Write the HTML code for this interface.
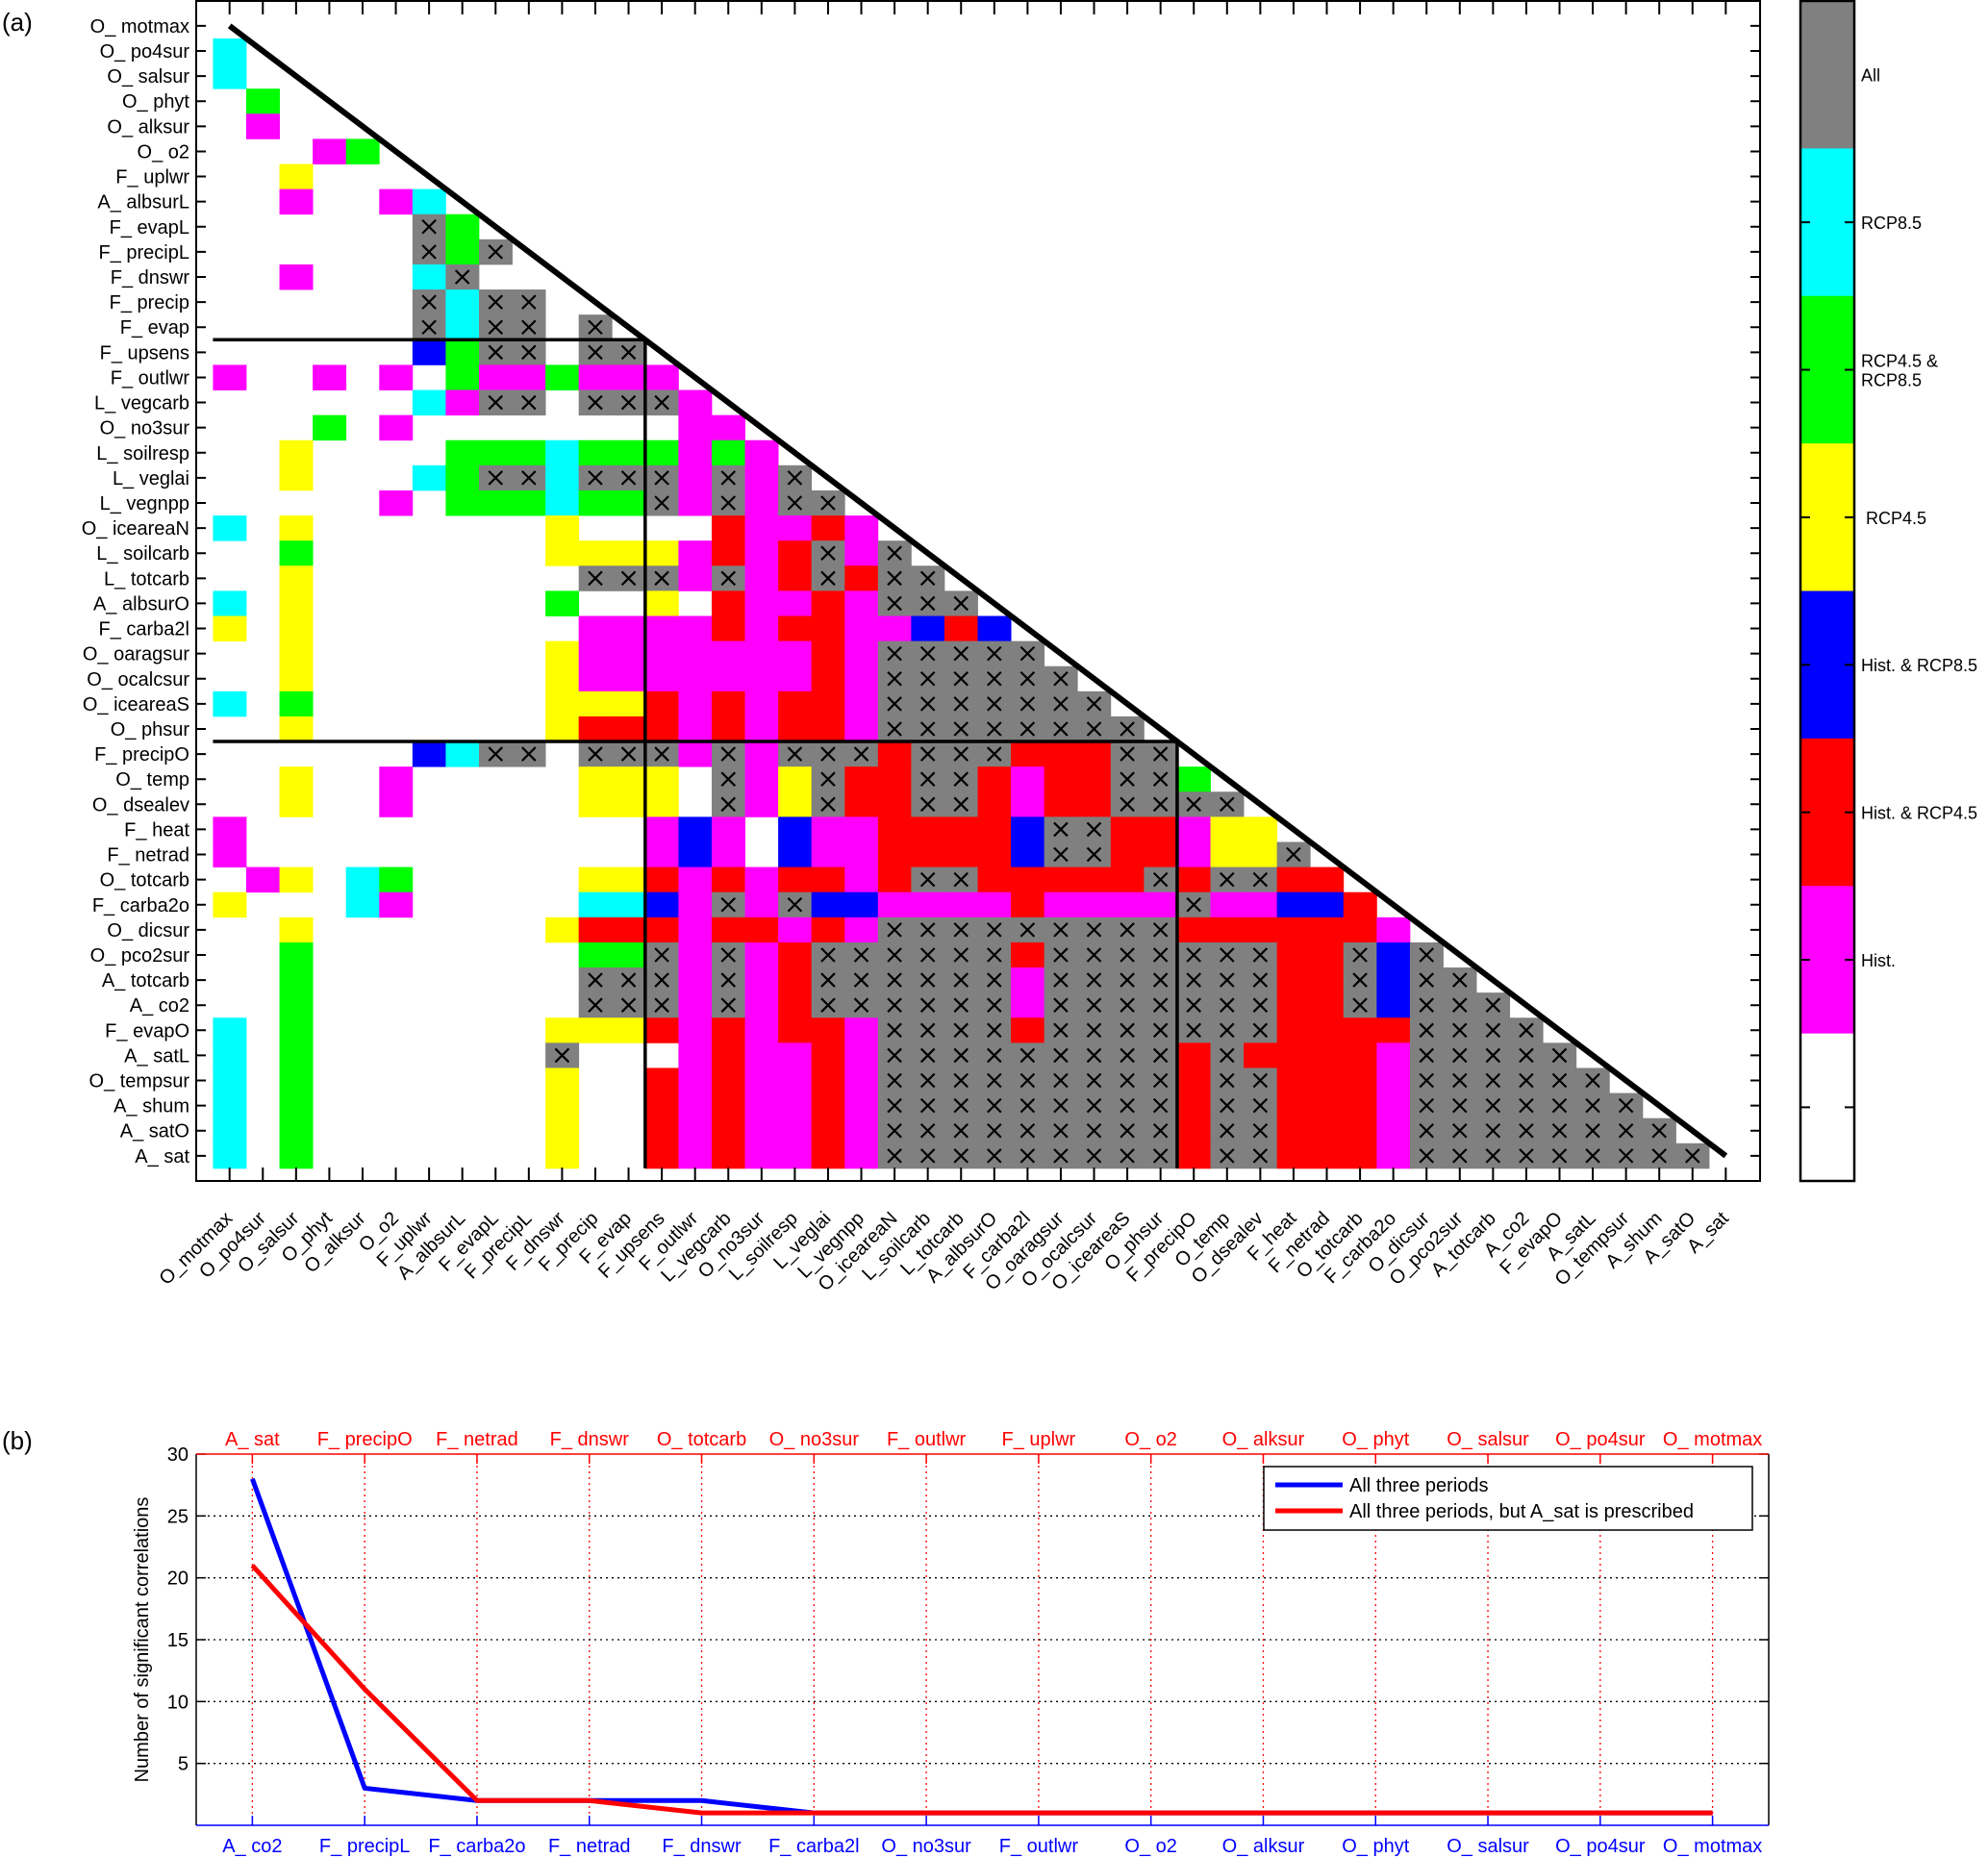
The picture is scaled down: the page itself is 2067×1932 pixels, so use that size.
<!DOCTYPE html>
<html><head><meta charset="utf-8"><style>
html,body{margin:0;padding:0;background:#fff;}
svg{display:block;font-family:"Liberation Sans",Arial,sans-serif;}
</style></head><body>
<svg id="fig" width="2067" height="1932" viewBox="0 0 2067 1932" xmlns="http://www.w3.org/2000/svg">
<rect x="0" y="0" width="2067" height="1932" fill="#fff"/>
<text x="2" y="32" font-size="26">(a)</text>
<text x="2" y="1507" font-size="26">(b)</text>
<g id="matrix"></g>
<g id="cbar"></g>
<g id="lineplot"></g>
</svg>
<script>
const NS="http://www.w3.org/2000/svg";
const varNames=["O_motmax","O_po4sur","O_salsur","O_phyt","O_alksur","O_o2","F_uplwr","A_albsurL","F_evapL","F_precipL","F_dnswr","F_precip","F_evap","F_upsens","F_outlwr","L_vegcarb","O_no3sur","L_soilresp","L_veglai","L_vegnpp","O_iceareaN","L_soilcarb","L_totcarb","A_albsurO","F_carba2l","O_oaragsur","O_ocalcsur","O_iceareaS","O_phsur","F_precipO","O_temp","O_dsealev","F_heat","F_netrad","O_totcarb","F_carba2o","O_dicsur","O_pco2sur","A_totcarb","A_co2","F_evapO","A_satL","O_tempsur","A_shum","A_satO","A_sat"];
// cell codes per row: . white, c RCP8.5, n RCP4.5&8.5, y RCP4.5, b Hist&8.5, r Hist&4.5, m Hist, x All
const cellRows=["","c","c.",".n.",".m..","...mn","..y...","..m..mc","......xn","......xnx","..m...cx..","......xcxx.","......xcxx.x","......bnxx.xx","m..m.m.nmmnmmm","......cmxx.xxxm","...n.m........mm","..y....nnncnnnmnm","..y...cnxxcxxxmxmx",".....m.nnncnnxmxmxx","c.y.......y....rmmrm","..n.......yyyymrmrxmx","..y........xxxmxmrxrxx","c.y.......n..y.rmmrmxxx","y.y........mmmmrmrrmmbrb","..y.......ymmmmmmmrmxxxxx","..y.......ymmmmmmmrmxxxxxx","c.n.......yyyrmrmrrmxxxxxxx","..y.......yrrrmrmrrmxxxxxxxx","......bcxx.xxxmxmxxxrxxxrrrxx","..y..m.....yyy.xmyxrrxxrmrrxxn","..y..m.....yyy.xmyxrrxxrmrrxxxx","m............mbm.bmmrrrrbxxrrmyy","m............mbm.bmmrrrrbxxrrmyyx",".my.cn.....yyrmrmrrmrxxrrrrrxrxxrr","y...cm.....ccbmxmxbbmmmmrmmmmxmmbbr","..y.......yrrrmrrmrmxxxxxxxxxrrrrrrm","..n........nnxmxmrxxxxxxrxxxxxxxrrxbx","..n........xxxmxmrxxxxxxmxxxxxxxrrxbxx","..n........xxxmxmrxxxxxxmxxxxxxxrrxbxxx","c.n.......yyyrmrmrrmxxxxrxxxxxxxrrrrxxxx","c.n.......x...mrmmrmxxxxxxxxxrxrrrrmxxxxx","c.n.......y..rmrmmrmxxxxxxxxxrxxrrrmxxxxxx","c.n.......y..rmrmmrmxxxxxxxxxrxxrrrmxxxxxxx","c.n.......y..rmrmmrmxxxxxxxxxrxxrrrmxxxxxxxx","c.n.......y..rmrmmrmxxxxxxxxxrxxrrrmxxxxxxxxx"];
const legendLabels=["All","RCP8.5","RCP4.5 &|RCP8.5","RCP4.5","Hist. & RCP8.5","Hist. & RCP4.5","Hist.",""];
// panel b data
const bottomLabels=["A_ co2","F_ precipL","F_ carba2o","F_ netrad","F_ dnswr","F_ carba2l","O_ no3sur","F_ outlwr","O_ o2","O_ alksur","O_ phyt","O_ salsur","O_ po4sur","O_ motmax"];
const topLabels=["A_ sat","F_ precipO","F_ netrad","F_ dnswr","O_ totcarb","O_ no3sur","F_ outlwr","F_ uplwr","O_ o2","O_ alksur","O_ phyt","O_ salsur","O_ po4sur","O_ motmax"];
const blueSeries=[28,3,2,2,2,1,1,1,1,1,1,1,1,1];
const redSeries=[21,11,2,2,1,1,1,1,1,1,1,1,1,1];
const yTicks=[5,10,15,20,25,30];

const COLORS={c:"#00ffff",n:"#00ff00",y:"#ffff00",b:"#0000ff",r:"#ff0000",m:"#ff00ff",x:"#808080"};
function mk(tag,attrs,parent){const e=document.createElementNS(NS,tag);for(const k in attrs)e.setAttribute(k,attrs[k]);parent.appendChild(e);return e;}

// ---------- panel a ----------
const M=document.getElementById('matrix');
const X0=238.7,DX=34.57,Y0=26.9,DY=26.11;
const colX=i=>X0+DX*i, rowY=j=>Y0+DY*j;
const BL=204,BR=1830,BT=1,BB=1228;
mk('rect',{x:BL,y:BT,width:BR-BL,height:BB-BT,fill:"#fff",stroke:"none"},M);
cellRows.forEach((s,r)=>{
  for(let c=0;c<s.length;c++){
    const ch=s[c]; if(ch==='.')continue;
    const cell=mk('rect',{x:colX(c)-DX/2,y:rowY(r)-DY/2,width:DX+0.4,height:DY+0.4,fill:COLORS[ch]},M);
    
    
    if(ch==='x'){
      const cx=colX(c),cy=rowY(r),h=7;
      const p=mk('path',{d:`M${cx-h} ${cy-h}L${cx+h} ${cy+h}M${cx+h} ${cy-h}L${cx-h} ${cy+h}`,stroke:"#000","stroke-width":2.2,fill:"none"},M);
      
      
    }
  }
});
// separators
const sepH1=rowY(12.5), sepH2=rowY(28.5), sepV1=colX(12.5), sepV2=colX(28.5), cellBottom=rowY(45.5);
const sep=(d,n)=>{const p=mk('path',{d:d,stroke:"#000","stroke-width":3.5,fill:"none"},M);};
sep(`M${colX(-0.5)} ${sepH1}H${sepV1}V${cellBottom}`,'separator-atmosphere-flux');
sep(`M${colX(-0.5)} ${sepH2}H${sepV2}V${cellBottom}`,'separator-land-ocean');
const diag=mk('line',{x1:colX(0),y1:rowY(0),x2:colX(45),y2:rowY(45),stroke:"#000","stroke-width":6},M);


// box and ticks
mk('rect',{x:BL,y:BT,width:BR-BL,height:BB-BT,fill:"none",stroke:"#000","stroke-width":2},M);
let tk="";
for(let i=0;i<46;i++){
  const x=colX(i),y=rowY(i);
  tk+=`M${x} ${BT}v14M${x} ${BB}v-14M${BL} ${y}h10M${BR} ${y}h-10`;
}
mk('path',{d:tk,stroke:"#000","stroke-width":2,fill:"none"},M);
varNames.forEach((n,i)=>{
  const t=mk('text',{x:197,y:rowY(i)+7,"text-anchor":"end","font-size":20},M);
  t.textContent=n.replace('_','_ ');
  
  
  const x=colX(i)+4,y=1268;
  const t2=mk('text',{x:x,y:y,"text-anchor":"end","font-size":20,transform:`rotate(-45 ${x} ${y})`},M);
  t2.textContent=n;
  
  
});

// ---------- colorbar ----------
const CB=document.getElementById('cbar');
const cbCols=["#808080","#00ffff","#00ff00","#ffff00","#0000ff","#ff0000","#ff00ff","#ffffff"];
const cbX=1872,cbW=56,cbT=1,cbB=1228,segH=(cbB-cbT)/8;
cbCols.forEach((col,i)=>{
  const r=mk('rect',{x:cbX,y:cbT+segH*i,width:cbW,height:segH+0.5,fill:col},CB);
  
  
  const ty=cbT+segH*(i+0.5);
  if(i>0) mk('path',{d:`M${cbX} ${ty}h10M${cbX+cbW} ${ty}h-10`,stroke:"#000","stroke-width":2},CB);
  const lab=legendLabels[i]; if(!lab)return;
  const parts=lab.split('|');
  parts.forEach((p,k)=>{
    const t=mk('text',{x:cbX+cbW+7+(i===3?5:0),y:ty+7+(k-(parts.length-1)/2)*20,"font-size":18},CB);
    t.textContent=p;
    
    
  });
});
mk('rect',{x:cbX,y:cbT,width:cbW,height:cbB-cbT,fill:"none",stroke:"#000","stroke-width":2.5},CB);

// ---------- panel b ----------
const L=document.getElementById('lineplot');
const pL=204,pR=1839,pT=1512,pB=1898;
const xs=i=>pL+(pR-pL)*((i+1)-0.5)/14;
const ys=v=>pB-(pB-pT)*v/30;
mk('rect',{x:pL,y:pT,width:pR-pL,height:pB-pT,fill:"#fff"},L);
blueSeries.forEach((v,i)=>{
  const g=mk('line',{x1:xs(i),y1:pT,x2:xs(i),y2:pB,stroke:"#ff0000","stroke-width":1.3,"stroke-dasharray":"2 4"},L);
  
  
});
yTicks.forEach(v=>{
  if(v<30){const g=mk('line',{x1:pL,y1:ys(v),x2:pR,y2:ys(v),stroke:"#000","stroke-width":1.3,"stroke-dasharray":"2 4"},L);
  
  }
  mk('line',{x1:pL,y1:ys(v),x2:pL+10,y2:ys(v),stroke:"#000","stroke-width":1.5},L);
  mk('line',{x1:pR,y1:ys(v),x2:pR-10,y2:ys(v),stroke:"#000","stroke-width":1.5},L);
  const t=mk('text',{x:pL-8,y:ys(v)+7,"text-anchor":"end","font-size":20},L);
  t.textContent=v;
  
  
});
// axes
mk('line',{x1:pL,y1:pT,x2:pL,y2:pB,stroke:"#000","stroke-width":1.5},L);
mk('line',{x1:pR,y1:pT,x2:pR,y2:pB,stroke:"#000","stroke-width":1.5},L);
const ax1=mk('line',{x1:pL,y1:pB,x2:pR,y2:pB,stroke:"#0000ff","stroke-width":1.5},L);


const ax2=mk('line',{x1:pL,y1:pT,x2:pR,y2:pT,stroke:"#ff0000","stroke-width":1.5},L);


bottomLabels.forEach((s,i)=>{
  mk('line',{x1:xs(i),y1:pB,x2:xs(i),y2:pB-10,stroke:"#0000ff","stroke-width":1.5},L);
  const t=mk('text',{x:xs(i),y:1926,"text-anchor":"middle","font-size":20,fill:"#0000ff"},L);
  t.textContent=s;
  
  
});
topLabels.forEach((s,i)=>{
  mk('line',{x1:xs(i),y1:pT,x2:xs(i),y2:pT+10,stroke:"#ff0000","stroke-width":1.5},L);
  const t=mk('text',{x:xs(i),y:1503,"text-anchor":"middle","font-size":20,fill:"#ff0000"},L);
  t.textContent=s;
  
  
});
const yt=mk('text',{x:154,y:1705,"text-anchor":"middle","font-size":20,transform:"rotate(-90 154 1705)"},L);
yt.textContent="Number of significant correlations";


function series(vals,col,name){
  const p=mk('polyline',{points:vals.map((v,i)=>xs(i)+","+ys(v)).join(" "),fill:"none",stroke:col,"stroke-width":5,"stroke-linejoin":"round"},L);
  
  
}
series(blueSeries,"#0000ff","series-all-periods");
series(redSeries,"#ff0000","series-sat-prescribed");
// legend
const lg=mk('g',{},L);


mk('rect',{x:1314,y:1525,width:508,height:66,fill:"#fff",stroke:"#000","stroke-width":1.5},lg);
[["All three periods","#0000ff",1544],["All three periods, but A_sat is prescribed","#ff0000",1571]].forEach(([s,c,y])=>{
  const l=mk('line',{x1:1326,y1:y,x2:1396,y2:y,stroke:c,"stroke-width":5},lg);
  
  
  const t=mk('text',{x:1403,y:y+7,"font-size":20},lg);
  t.textContent=s;
  
  
});
</script>
</body></html>
